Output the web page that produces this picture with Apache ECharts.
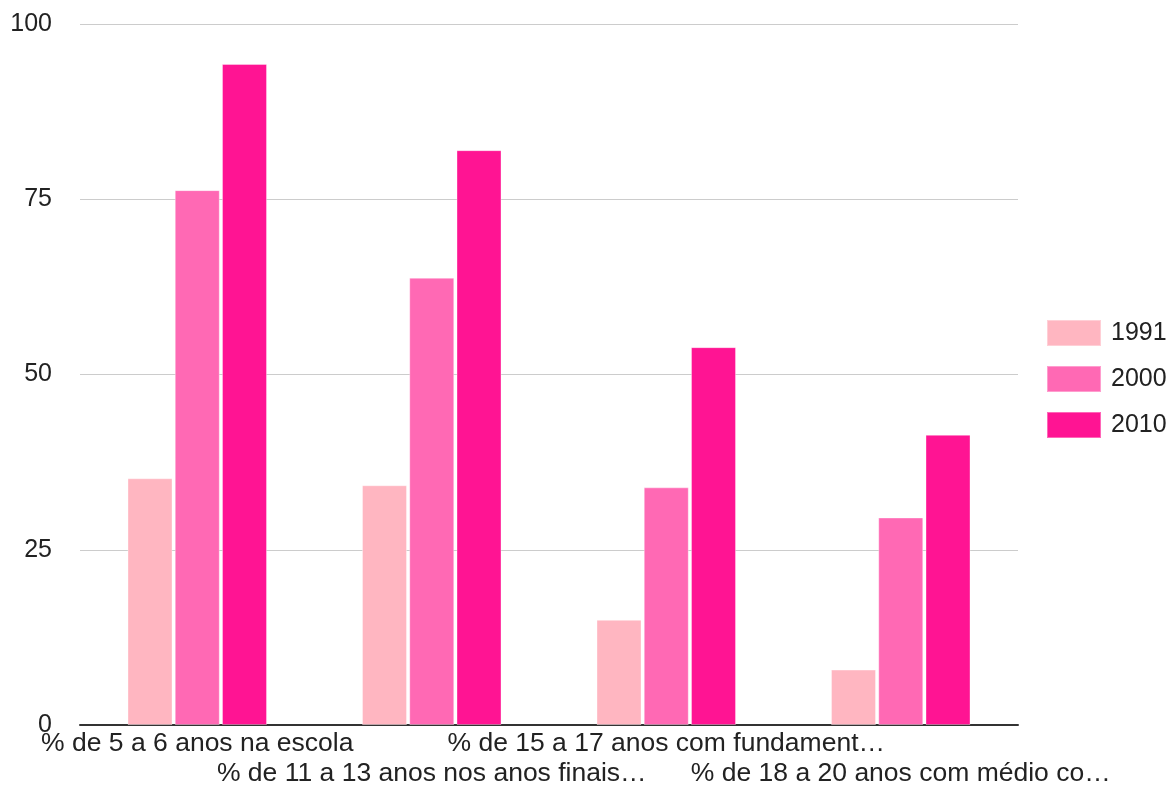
<!DOCTYPE html>
<html>
<head>
<meta charset="utf-8">
<script src="https://cdn.jsdelivr.net/npm/echarts@6/dist/echarts.min.js"></script>
<style>
  html, body { margin: 0; padding: 0; background: #fff; }
  #chart { width: 1170px; height: 789px; }
</style>
</head>
<body>
<div id="chart"></div>
<script>
// Indicator labels (as shown, truncated)
const categories = [
  '% de 5 a 6 anos na escola',
  '% de 11 a 13 anos nos anos finais…',
  '% de 15 a 17 anos com fundament…',
  '% de 18 a 20 anos com médio co…'
];
const seriesNames = ['1991', '2000', '2010'];
const values1991 = [35.2, 34.2, 15.0, 7.9];
const values2000 = [76.3, 63.8, 33.9, 29.6];
const values2010 = [94.3, 82.0, 53.9, 41.4];
const yTicks = [0, 25, 50, 75, 100];

const colors = ['#FFB6C1', '#FF69B4', '#FF1493'];
const font = '"Liberation Sans", Arial, sans-serif';

const chart = echarts.init(document.getElementById('chart'));
const seriesData = [values1991, values2000, values2010];

chart.setOption({
  animation: false,
  textStyle: { fontFamily: font },
  grid: { left: 80, right: 152, top: 24, bottom: 60, containLabel: false },
  legend: {
    orient: 'vertical',
    left: 1041,
    top: 314,
    itemWidth: 54,
    itemHeight: 26,
    itemGap: 18,
    icon: 'rect',
    textStyle: { fontSize: 25, color: '#222', fontFamily: font, padding: [0, 0, 0, 5] },
    data: seriesNames
  },
  xAxis: {
    type: 'category',
    data: categories,
    axisTick: { show: false },
    axisLine: { lineStyle: { color: '#333', width: 2 } },
    axisLabel: {
      interval: 0,
      margin: 4,
      fontSize: 26.5,
      lineHeight: 30,
      color: '#222',
      fontFamily: font,
      formatter: (v, i) => (i % 2 === 1 ? '\n' + v : v)
    }
  },
  yAxis: {
    type: 'value',
    min: yTicks[0],
    max: yTicks[yTicks.length - 1],
    interval: 25,
    axisLine: { show: false },
    axisTick: { show: false },
    splitLine: { lineStyle: { color: '#cccccc', width: 1 } },
    axisLabel: { margin: 28, fontSize: 25, color: '#222', fontFamily: font }
  },
  series: seriesNames.map((name, k) => ({
    name,
    type: 'bar',
    data: seriesData[k],
    barWidth: 45,
    barGap: '5%',
    itemStyle: { color: colors[k], borderColor: 'rgba(255,255,255,0.35)', borderWidth: 1 }
  }))
});
</script>
</body>
</html>
